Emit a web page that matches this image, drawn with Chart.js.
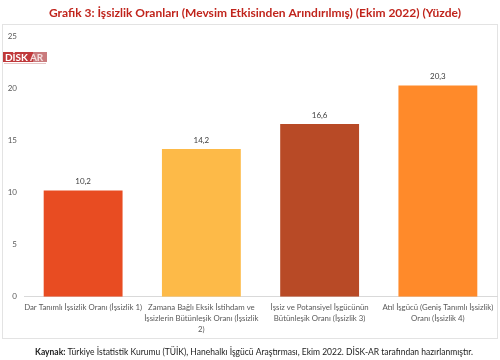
<!DOCTYPE html>
<html>
<head>
<meta charset="utf-8">
<script src="https://cdn.jsdelivr.net/npm/chart.js@4/dist/chart.umd.min.js"></script>
<style>
  html, body { margin: 0; padding: 0; background: #fff; }
  #wrap { width: 500px; height: 360px; position: relative; }
</style>
</head>
<body>
<div id="wrap"><canvas id="chart" width="500" height="360"></canvas></div>
<script>
// Veriler
const categories = [
    'Dar Tanımlı İşsizlik Oranı (İşsizlik 1)',
    ['Zamana Bağlı Eksik İstihdam ve', 'İşsizlerin Bütünleşik Oranı (İşsizlik', '2)'],
    ['İşsiz ve Potansiyel İşgücünün', 'Bütünleşik Oranı (İşsizlik 3)'],
    ['Atıl İşgücü (Geniş Tanımlı İşsizlik)', 'Oranı (İşsizlik 4)']
];
const rates = [10.2, 14.2, 16.6, 20.3];
const barColors = ['#E84C22', '#FDBA48', '#B84A26', '#FF8A2A'];
const yTicks = [0, 5, 10, 15, 20, 25];

const FONT = 'Lato';
const titleText = 'Grafik 3: İşsizlik Oranları (Mevsim Etkisinden Arındırılmış) (Ekim 2022) (Yüzde)';

// Rahmen, Titel, Logo und Quelle
const decorPlugin = {
    id: 'decor',
    beforeDraw(chart) {
        const ctx = chart.ctx;
        ctx.save();
        ctx.strokeStyle = '#e3e3e3';
        ctx.lineWidth = 1;
        ctx.strokeRect(2.5, 24.5, 495, 314);

        ctx.fillStyle = '#C0241C';
        ctx.font = 'bold 12px ' + FONT;
        ctx.textAlign = 'center';
        ctx.textBaseline = 'middle';
        ctx.fillText(titleText, 255, 13);

        // DİSK-AR Logo
        ctx.fillStyle = '#C0393B';
        ctx.fillRect(3, 52, 30, 10);
        ctx.fillStyle = '#C97a7c';
        ctx.fillRect(33, 52, 14, 10);
        ctx.textAlign = 'left';
        ctx.font = 'bold 10px ' + FONT;
        ctx.fillStyle = '#ffffff';
        ctx.fillText('DİSK', 5, 57.5);
        const w = ctx.measureText('DİSK').width;
        ctx.fillStyle = '#f3dede';
        ctx.fillText('AR', 5 + w + 2, 57.5);
        ctx.fillStyle = '#e6c4c4';
        ctx.fillRect(4, 63, 42, 1);

        // Quelle
        ctx.font = 'bold 8.5px ' + FONT;
        const k = 'Kaynak: ';
        const rest = 'Türkiye İstatistik Kurumu (TÜİK), Hanehalkı İşgücü Araştırması, Ekim 2022. DİSK-AR tarafından hazırlanmıştır.';
        const kw = ctx.measureText(k).width;
        ctx.font = '8.5px ' + FONT;
        const rw = ctx.measureText(rest).width;
        const x0 = 254 - (kw + rw) / 2;
        ctx.fillStyle = '#222';
        ctx.font = 'bold 8.5px ' + FONT;
        ctx.fillText(k, x0, 352);
        ctx.font = '8.5px ' + FONT;
        ctx.fillText(rest, x0 + kw, 352);
        ctx.restore();
    }
};

// Werte über den Balken
const labelPlugin = {
    id: 'barLabels',
    afterDatasetsDraw(chart) {
        const ctx = chart.ctx;
        const meta = chart.getDatasetMeta(0);
        ctx.save();
        ctx.font = '8px ' + FONT;
        ctx.fillStyle = '#404040';
        ctx.textAlign = 'center';
        ctx.textBaseline = 'bottom';
        meta.data.forEach((bar, i) => {
            ctx.fillText(rates[i].toFixed(1).replace('.', ','), bar.x, bar.y - 5);
        });
        ctx.restore();
    }
};

const ctx = document.getElementById('chart').getContext('2d');
new Chart(ctx, {
    type: 'bar',
    data: {
        labels: categories,
        datasets: [{
            data: rates,
            backgroundColor: barColors,
            borderWidth: 0,
            barPercentage: 0.667,
            categoryPercentage: 1
        }]
    },
    options: {
        responsive: false,
        animation: false,
        layout: { padding: { top: 36.7, left: 2, right: 3, bottom: 18.3 } },
        plugins: {
            legend: { display: false },
            tooltip: { enabled: false }
        },
        scales: {
            x: {
                grid: { display: false, drawTicks: false },
                border: { display: true, color: '#d9d9d9' },
                ticks: {
                    color: '#595959',
                    font: { family: FONT, size: 7.8, lineHeight: 1.41 },
                    padding: 5,
                    maxRotation: 0,
                    autoSkip: false
                },
                afterFit(scale) { scale.height = 45; }
            },
            y: {
                min: 0,
                max: 25,
                grid: { display: false, drawTicks: false },
                border: { display: false },
                afterBuildTicks(scale) { scale.ticks = yTicks.map(v => ({ value: v })); },
                ticks: {
                    color: '#595959',
                    font: { family: FONT, size: 8 },
                    padding: 7
                },
                afterFit(scale) { scale.width = 22; }
            }
        }
    },
    plugins: [decorPlugin, labelPlugin]
});
</script>
</body>
</html>
